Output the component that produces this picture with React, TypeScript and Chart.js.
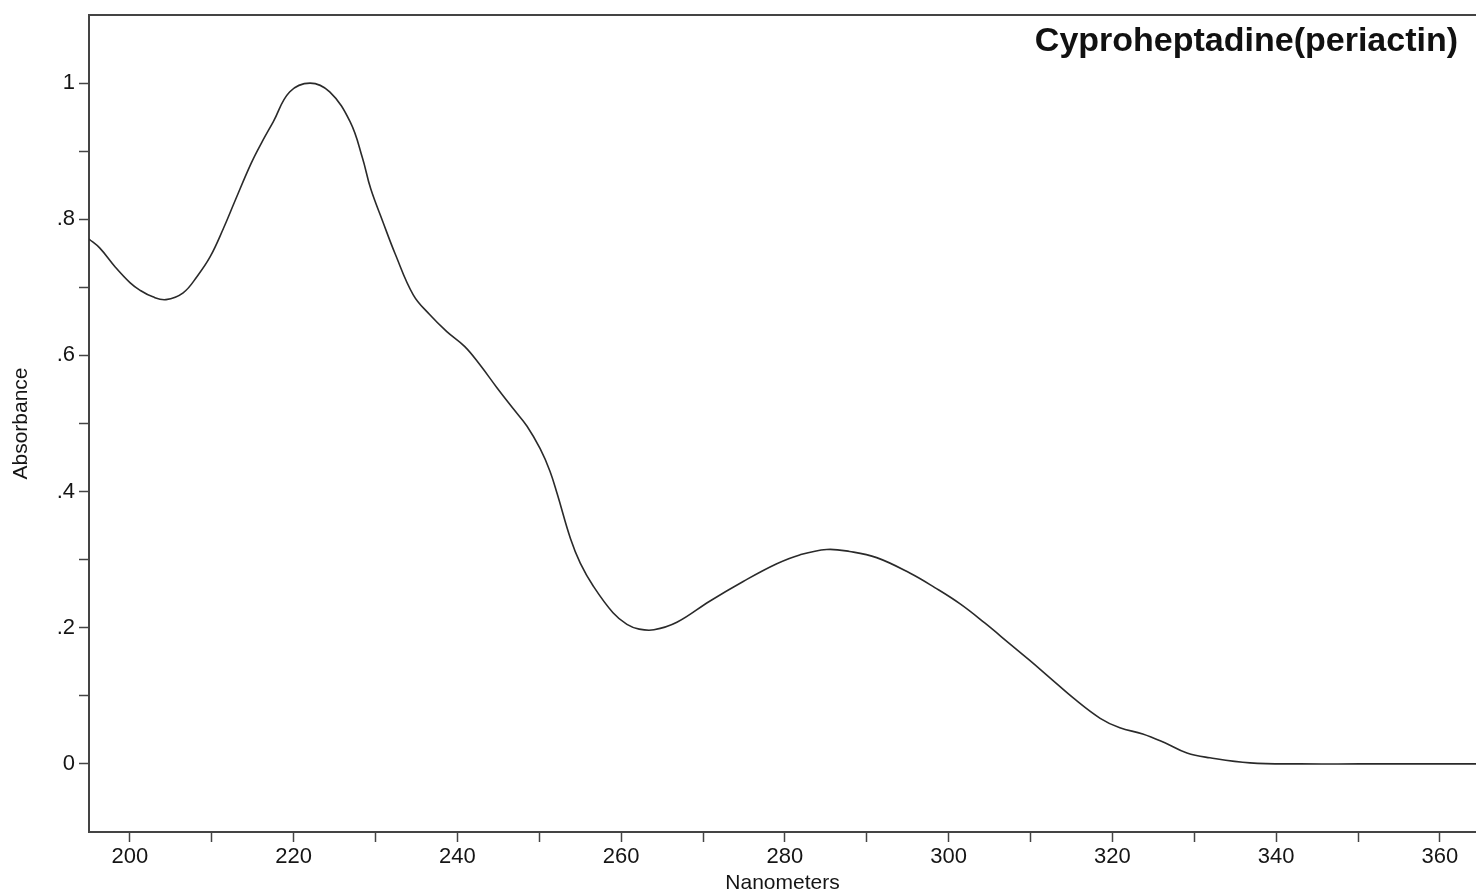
import { useEffect, useRef } from "react";
import { Chart, registerables } from "chart.js";

Chart.register(...registerables);

const wavelengthNm = [
  195, 196.3, 198.2, 200, 201.2, 202.8, 204.4, 206.5, 208.2, 209.8, 211.4, 212.8, 214.8, 216.2, 217.5, 219.5,
  222, 224.4, 226.9, 228.4, 229.4, 230.9, 232.4, 234.6, 236.6, 238.7, 240.9, 242.7, 244.8, 246.8, 248.5, 250.1,
  251.3, 252.2, 253.8, 255, 256.6, 259, 260.7, 262.2, 264, 266.8, 270.8, 274.9, 279, 281.8, 285.1, 287.9, 291.2,
  295.3, 298.3, 301.4, 304.4, 307.5, 309.9, 312.4, 315.4, 318.5, 320.9, 323.7, 326.4, 329.1, 331.9, 336.8,
  342.9, 350.2, 364.4,
];
const absorbance = [
  0.771, 0.758, 0.73, 0.707, 0.696, 0.686, 0.682, 0.692, 0.716, 0.745, 0.786, 0.826, 0.882, 0.915, 0.943, 0.987,
  1.0, 0.987, 0.943, 0.89, 0.845, 0.796, 0.749, 0.689, 0.66, 0.635, 0.613, 0.587, 0.553, 0.522, 0.496, 0.463,
  0.43, 0.396, 0.331, 0.295, 0.261, 0.222, 0.205, 0.198, 0.197, 0.208, 0.239, 0.268, 0.294, 0.307, 0.315, 0.312,
  0.303, 0.28, 0.259, 0.235, 0.207, 0.176, 0.152, 0.126, 0.095, 0.067, 0.053, 0.044, 0.031, 0.016, 0.009, 0.0015,
  0, 0, 0,
];

const xTickValues = [200, 210, 220, 230, 240, 250, 260, 270, 280, 290, 300, 310, 320, 330, 340, 350, 360];
const xTickLabels = ["200", "", "220", "", "240", "", "260", "", "280", "", "300", "", "320", "", "340", "", "360"];
const yTickValues = [0, 0.1, 0.2, 0.3, 0.4, 0.5, 0.6, 0.7, 0.8, 0.9, 1];
const yTickLabels = ["0", "", ".2", "", ".4", "", ".6", "", ".8", "", "1"];

const chartTitle = "Cyproheptadine(periactin)";
const xAxisTitle = "Nanometers";
const yAxisTitle = "Absorbance";

const FONT = "'Liberation Sans', Arial, Helvetica, sans-serif";

export default function App() {
  const ref = useRef<HTMLCanvasElement | null>(null);

  useEffect(() => {
    if (!ref.current) return;

    const framePlugin = {
      id: "frameAndTitle",
      afterDraw(chart: any) {
        const { ctx, chartArea } = chart;
        ctx.save();
        ctx.strokeStyle = "#444";
        ctx.lineWidth = 2;
        ctx.beginPath();
        ctx.moveTo(chartArea.left, chartArea.top);
        ctx.lineTo(chartArea.right, chartArea.top);
        ctx.stroke();
        ctx.font = `bold 34px ${FONT}`;
        ctx.fillStyle = "#111";
        ctx.textAlign = "right";
        ctx.textBaseline = "middle";
        ctx.fillText(chartTitle, chartArea.right - 18, chartArea.top + 27);
        ctx.restore();
      },
    };

    const chart = new Chart(ref.current, {
      type: "line",
      data: {
        datasets: [
          {
            data: wavelengthNm.map((x, i) => ({ x, y: absorbance[i] })),
            borderColor: "#2a2a2a",
            borderWidth: 1.6,
            pointRadius: 0,
            fill: false,
            tension: 0.4,
          },
        ],
      },
      options: {
        animation: false,
        responsive: true,
        maintainAspectRatio: false,
        layout: { padding: { top: 13, right: 0, left: 0, bottom: 0 } },
        plugins: {
          legend: { display: false },
          tooltip: { enabled: false },
          title: { display: false },
        },
        scales: {
          x: {
            type: "linear",
            min: 195,
            max: 364.4,
            afterBuildTicks: (s: any) => {
              s.ticks = xTickValues.map((v) => ({ value: v }));
            },
            afterFit: (s: any) => {
              s.height = 64;
            },
            ticks: {
              autoSkip: false,
              maxRotation: 0,
              minRotation: 0,
              padding: 4,
              color: "#151515",
              font: { family: FONT, size: 22, lineHeight: 1 },
              callback: (_v: any, i: number) => xTickLabels[i],
            },
            grid: {
              drawOnChartArea: false,
              drawTicks: true,
              tickLength: 10,
              tickColor: "#444",
              tickWidth: 1.5,
            },
            border: { display: true, color: "#444", width: 2 },
            title: {
              display: true,
              text: xAxisTitle,
              color: "#151515",
              font: { family: FONT, size: 21 },
              padding: { top: 0, bottom: 0 },
            },
          },
          y: {
            type: "linear",
            min: -0.1,
            max: 1.1,
            afterBuildTicks: (s: any) => {
              s.ticks = yTickValues.map((v) => ({ value: v }));
            },
            afterFit: (s: any) => {
              s.width = 89;
            },
            ticks: {
              autoSkip: false,
              padding: 4,
              color: "#151515",
              font: { family: FONT, size: 22, lineHeight: 1 },
              callback: (_v: any, i: number) => yTickLabels[i],
            },
            grid: {
              drawOnChartArea: false,
              drawTicks: true,
              tickLength: 10,
              tickColor: "#444",
              tickWidth: 1.5,
            },
            border: { display: true, color: "#444", width: 2 },
            title: {
              display: true,
              text: yAxisTitle,
              color: "#151515",
              font: { family: FONT, size: 21 },
              padding: { top: 9, bottom: 0 },
            },
          },
        },
      } as any,
      plugins: [framePlugin],
    });

    return () => chart.destroy();
  }, []);

  return (
    <div style={{ position: "fixed", left: 0, top: 0, width: 1476, height: 896, background: "#fff" }}>
      <canvas ref={ref} />
    </div>
  );
}
